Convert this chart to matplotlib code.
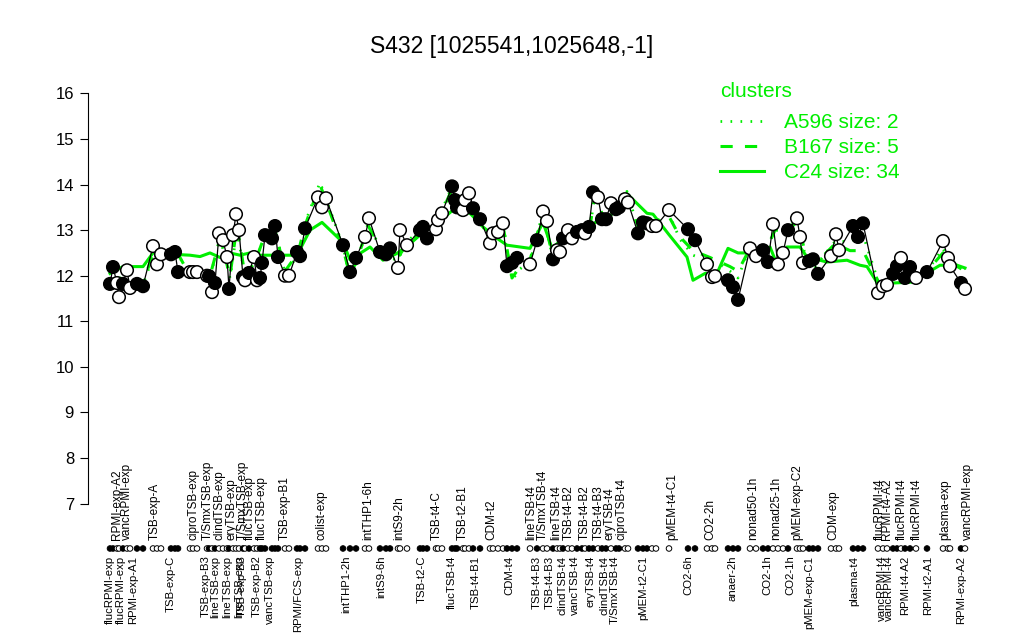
import matplotlib
matplotlib.use('Agg')
import matplotlib.pyplot as plt
from matplotlib.lines import Line2D

plt.rcParams['font.family'] = ['Liberation Sans', 'DejaVu Sans']

# sample positions along the condition axis, expression values, filled marker flag
pos = [110, 113, 117, 119, 123, 127, 130, 137, 143, 153, 157, 161, 171, 175, 178,
       190, 193, 197, 207, 209, 212, 215, 219, 223, 227, 229, 233, 236, 239, 243,
       245, 249, 254, 257, 260, 262, 265, 272, 275, 278, 285, 289, 297, 300, 305,
       318, 322, 326, 343, 350, 356, 365, 369, 380, 386, 390, 398, 400, 407, 420,
       423, 427, 436, 438, 442, 452, 455, 457, 463, 465, 469, 473, 480, 490, 493,
       498, 503, 507, 512, 517, 530, 537, 543, 547, 553, 557, 560, 563, 568, 572,
       577, 582, 585, 589, 593, 598, 602, 606, 611, 616, 619, 625, 628, 638, 643,
       647, 652, 656, 669, 688, 695, 707, 712, 715, 728, 733, 738, 750, 756, 763,
       768, 773, 778, 783, 788, 797, 800, 803, 809, 813, 818, 831, 836, 839, 853,
       858, 863, 878, 883, 887, 893, 897, 901, 905, 910, 916, 927, 943, 948, 950,
       961, 965]
expr = [11.82, 12.19, 11.84, 11.53, 11.82, 12.12, 11.73, 11.82, 11.77, 12.65, 12.25, 12.47, 12.47, 12.52, 12.08,
        12.08, 12.08, 12.08, 12.00, 11.99, 11.64, 11.84, 12.93, 12.78, 12.41, 11.71, 12.89, 13.35, 13.00, 11.97,
        11.90, 12.06, 12.41, 11.90, 11.95, 12.28, 12.89, 12.82, 13.09, 12.41, 12.00, 12.00, 12.52, 12.43, 13.04,
        13.72, 13.50, 13.70, 12.67, 12.08, 12.39, 12.85, 13.26, 12.52, 12.47, 12.60, 12.17, 13.00, 12.67, 13.00,
        13.07, 12.82, 13.02, 13.22, 13.37, 13.96, 13.66, 13.50, 13.44, 13.66, 13.81, 13.48, 13.24, 12.71, 12.93,
        12.96, 13.15, 12.21, 12.28, 12.39, 12.25, 12.78, 13.41, 13.20, 12.36, 12.56, 12.52, 12.82, 13.00, 12.82,
        12.96, 13.00, 12.93, 13.07, 13.83, 13.72, 13.24, 13.24, 13.59, 13.46, 13.50, 13.68, 13.61, 12.93, 13.17,
        13.15, 13.09, 13.09, 13.44, 13.02, 12.78, 12.25, 11.97, 11.99, 11.90, 11.75, 11.47, 12.60, 12.43, 12.56,
        12.30, 13.13, 12.25, 12.50, 13.00, 13.26, 12.85, 12.28, 12.32, 12.36, 12.04, 12.43, 12.91, 12.56, 13.09,
        12.85, 13.15, 11.62, 11.77, 11.80, 12.04, 12.21, 12.39, 11.95, 12.19, 11.95, 12.08, 12.76, 12.39, 12.21,
        11.84, 11.71]
filled = [1, 1, 0, 0, 1, 0, 0, 1, 1, 0, 0, 0, 1, 1, 1,
          0, 0, 0, 0, 1, 0, 1, 0, 0, 0, 1, 0, 0, 0, 1,
          0, 1, 0, 0, 1, 1, 1, 1, 1, 1, 0, 0, 1, 1, 1,
          0, 0, 0, 1, 1, 1, 0, 0, 1, 1, 1, 0, 0, 0, 1,
          1, 1, 0, 0, 0, 1, 1, 1, 0, 0, 0, 1, 1, 0, 0,
          0, 0, 1, 1, 1, 0, 1, 0, 0, 1, 0, 0, 1, 0, 0,
          1, 1, 0, 1, 1, 0, 1, 1, 0, 1, 1, 0, 0, 1, 1,
          1, 0, 0, 0, 1, 1, 0, 0, 0, 1, 1, 1, 0, 0, 1,
          1, 0, 0, 0, 1, 0, 0, 0, 1, 1, 1, 0, 0, 0, 1,
          1, 1, 0, 0, 0, 1, 1, 0, 1, 1, 0, 1, 0, 0, 0,
          1, 0]

# cluster mean profiles
cl_pos = [110, 120, 130, 143, 155, 165, 175, 185, 195, 210, 220, 230, 237, 245, 255,
          265, 275, 285, 298, 305, 320, 343, 350, 358, 368, 385, 398, 407, 423, 440,
          452, 465, 475, 490, 503, 512, 520, 530, 543, 553, 568, 590, 595, 605, 615,
          627, 640, 655, 669, 680, 693, 710, 720, 730, 738, 750, 765, 775, 788, 798,
          805, 815, 835, 850, 863, 880, 893, 905, 916, 927, 943, 950, 965]
b167 = [11.90, 11.95, 11.85, 11.85, 12.60, 12.50, 12.60, 12.20, 12.15, 12.00, 12.80, 12.00, 13.10, 12.00, 12.30,
        12.90, 13.00, 12.10, 12.50, 13.10, 14.00, 12.60, 12.00, 12.40, 13.10, 12.45, 12.40, 12.70, 13.00, 13.30,
        13.90, 13.60, 13.50, 12.80, 13.10, 11.95, 12.20, 12.35, 13.35, 12.40, 12.90, 13.10, 13.75, 13.20, 13.50,
        13.80, 12.95, 13.20, 13.30, 12.85, 12.55, 12.40, 12.30, 12.20, 12.10, 12.60, 12.50, 13.00, 13.00, 13.20,
        12.50, 12.25, 12.70, 12.55, 12.55, 11.80, 12.00, 12.00, 11.95, 12.10, 12.50, 12.30, 12.10]
a596 = [11.80, 11.90, 11.80, 11.80, 12.55, 12.45, 12.65, 12.15, 12.10, 11.95, 12.85, 11.95, 13.00, 11.95, 12.25,
        12.95, 13.05, 12.05, 12.45, 13.15, 14.05, 12.65, 11.95, 12.35, 13.15, 12.40, 12.35, 12.75, 13.05, 13.35,
        13.95, 13.65, 13.45, 12.75, 13.15, 11.90, 12.15, 12.30, 13.40, 12.35, 12.95, 13.05, 13.80, 13.15, 13.55,
        13.85, 12.90, 13.15, 13.35, 12.80, 12.45, 12.30, 12.25, 12.10, 11.95, 12.65, 12.45, 13.05, 13.05, 13.25,
        12.45, 12.20, 12.75, 12.75, 12.90, 11.75, 11.95, 12.05, 11.95, 12.10, 12.60, 12.30, 12.15]
c24_pos = [110, 123, 143, 153, 173, 190, 200, 210, 220, 230, 240, 250, 260, 270, 285,
           297, 310, 322, 343, 350, 370, 383, 397, 410, 423, 437, 453, 470, 483, 497,
           507, 530, 543, 552, 563, 590, 597, 610, 627, 647, 653, 669, 687, 693, 705,
           717, 728, 738, 750, 760, 770, 777, 787, 800, 807, 827, 847, 860, 867, 880,
           893, 913, 927, 940, 957, 965]
c24 = [12.05, 12.20, 12.20, 12.50, 12.47, 12.45, 12.42, 12.50, 12.40, 12.50, 12.45, 12.50, 12.45, 12.45, 12.45,
       12.45, 13.00, 13.17, 12.73, 12.35, 12.63, 12.34, 12.49, 12.70, 12.95, 13.15, 13.44, 13.37, 13.07, 12.82,
       12.67, 12.60, 13.17, 12.60, 12.82, 13.07, 13.20, 13.30, 13.80, 13.37, 13.35, 12.90, 12.41, 11.90, 12.05,
       12.05, 12.60, 12.50, 12.50, 12.50, 12.63, 12.25, 12.63, 12.63, 12.41, 12.30, 12.34, 12.23, 12.20, 11.75,
       11.84, 11.86, 12.06, 12.23, 12.23, 12.17]

# condition labels below the marker strip and above it
bottom_pos = [110, 121, 133, 171, 206, 215, 227, 239, 242, 257, 270, 298, 346, 381, 422,
              452, 476, 509, 537, 550, 562, 575, 590, 604, 615, 643, 688, 733, 767, 790,
              809, 854, 882, 889, 905, 928, 961]
bottom_labels = ['flucRPMI-exp', 'flucRPMI-exp', 'RPMI-exp-A1', 'TSB-exp-C', 'TSB-exp-B3',
                 'lineTSB-exp', 'lineTSB-exp', 'lineTSB-exp', 'TSB-exp-B3', 'TSB-exp-B2',
                 'vancTSB-exp', 'RPMI/FCS-exp', 'intTHP1-2h', 'intS9-6h', 'TSB-t2-C',
                 'flucTSB-t4', 'TSB-t4-B1', 'CDM-t4', 'TSB-t4-B3', 'TSB-t4-B3',
                 'clindTSB-t4', 'vancTSB-t4', 'eryTSB-t4', 'clindTSB-t4', 'T/SmxTSB-t4',
                 'pMEM-t2-C1', 'CO2-6h', 'anaer-2h', 'CO2-1h', 'CO2-1h',
                 'pMEM-exp-C1', 'plasma-t4', 'vancRPMI-t4', 'vancRPMI-t4', 'RPMI-t4-A2',
                 'RPMI-t2-A1', 'RPMI-exp-A2']
top_pos = [117, 127, 155, 193, 208, 220, 232, 243, 250, 262, 285, 322, 368, 399, 437,
           463, 491, 531, 543, 556, 569, 585, 599, 610, 622, 672, 710, 753, 776, 797,
           833, 880, 887, 902, 917, 945, 968]
top_labels = ['RPMI-exp-A2', 'vancRPMI-exp', 'TSB-exp-A', 'ciproTSB-exp', 'T/SmxTSB-exp',
              'clindTSB-exp', 'eryTSB-exp', 'T/SmxTSB-exp', 'flucTSB-exp', 'flucTSB-exp',
              'TSB-exp-B1', 'colist-exp', 'intTHP1-6h', 'intS9-2h', 'TSB-t4-C',
              'TSB-t2-B1', 'CDM-t2', 'lineTSB-t4', 'T/SmxTSB-t4', 'lineTSB-t4',
              'TSB-t4-B2', 'TSB-t4-B2', 'TSB-t4-B3', 'eryTSB-t4', 'ciproTSB-t4',
              'pMEM-t4-C1', 'CO2-2h', 'nonad50-1h', 'nonad25-1h', 'pMEM-exp-C2',
              'CDM-exp', 'flucRPMI-t4', 'RPMI-t4-A2', 'flucRPMI-t4', 'flucRPMI-t4',
              'plasma-exp', 'vancRPMI-exp']

green = '#00EE00'

fig = plt.figure(figsize=(10.24, 6.4), dpi=100)
ax = fig.add_axes([88/1024, 120/640, 902/1024, 443/640])
ax.set_xlim(88, 990)
ax.set_ylim(6.64, 16.36)

# cluster profiles
ax.plot(cl_pos, a596, color=green, lw=2, ls=(0, (0.6, 3)), zorder=2)
ax.plot(cl_pos, b167, color=green, lw=2.2, ls=(0, (4, 4)), zorder=2)
ax.plot(c24_pos, c24, color=green, lw=2.2, zorder=2)

# gene expression
ax.plot(pos, expr, color='black', lw=0.9, zorder=3)
face = ['black' if f else 'white' for f in filled]
ax.scatter(pos, expr, s=82, c=face, edgecolors='black', linewidths=1.1, zorder=4)

# marker strip below the axis
strip_y = 6.015
ax.scatter(pos, [strip_y] * len(pos), s=16, c=face, edgecolors='black',
           linewidths=0.7, clip_on=False, zorder=4)

for x, lab in zip(top_pos, top_labels):
    ax.text(x, 6.21, lab, rotation=90, ha='center', va='bottom', fontsize=8.5, clip_on=False)
for x, lab in zip(bottom_pos, bottom_labels):
    ax.text(x, 5.86, lab, rotation=90, ha='center', va='top', fontsize=8.2, clip_on=False)

for s in ['top', 'right', 'bottom']:
    ax.spines[s].set_visible(False)
ax.spines['left'].set_bounds(7, 16)
ax.set_yticks(range(7, 17))
ax.tick_params(axis='y', length=6, labelsize=12, pad=4)
ax.set_xticks([])

fig.text(0.5, 1 - 47/640, 'S432 [1025541,1025648,-1]', ha='center', va='center', fontsize=16.5)

handles = [Line2D([], [], color=green, lw=2, ls=(0, (0.6, 3))),
           Line2D([], [], color=green, lw=2.2, ls=(0, (4, 4))),
           Line2D([], [], color=green, lw=2.2)]
leg = fig.legend(handles, ['A596 size: 2', 'B167 size: 5', 'C24 size: 34'],
                 title='clusters', loc='upper left', bbox_to_anchor=(720/1024, 1 - 82/640),
                 frameon=False, fontsize=15, title_fontsize=15, labelcolor=green,
                 handlelength=2.1, handletextpad=0.95, labelspacing=0.28, alignment='left',
                 borderpad=0, borderaxespad=0)
leg.get_title().set_color(green)
leg._legend_box.sep = 9

fig.savefig('out.png', dpi=100)
